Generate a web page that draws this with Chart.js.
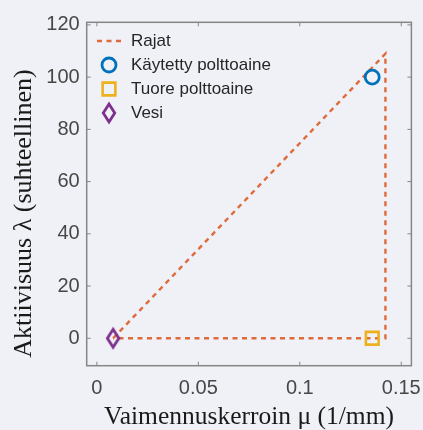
<!DOCTYPE html>
<html><head><meta charset="utf-8">
<script src="https://cdn.jsdelivr.net/npm/chart.js@4"></script>
<style>html,body{margin:0;padding:0;background:#f0f1f6;}#wrap{width:423px;height:430px;}</style>
</head><body><div id="wrap"><canvas id="c" width="423" height="430"></canvas></div>
<script>
// ---- data ----
const seriesNames = ['Rajat', 'Käytetty polttoaine', 'Tuore polttoaine', 'Vesi'];
const boundsX = [0.008, 0.1422, 0.1422, 0.008];
const boundsY = [0, 109, 0, 0];
const usedX = [0.1357];
const usedY = [100];
const freshX = [0.1357];
const freshY = [0];
const waterX = [0.008];
const waterY = [0];
const xTicks = [0, 0.05, 0.1, 0.15];
const yTicks = [0, 20, 40, 60, 80, 100, 120];
const xTitle = 'Vaimennuskerroin μ (1/mm)';
const yTitle = 'Aktiivisuus λ (suhteellinen)      ';

const pts = (xs, ys) => xs.map((v, i) => ({x: v, y: ys[i]}));

function diamondCanvas(color, w, h, lw) {
  const c = document.createElement('canvas');
  c.width = Math.ceil(w + lw * 2); c.height = Math.ceil(h + lw * 2);
  const g = c.getContext('2d');
  const cx = c.width / 2, cy = c.height / 2;
  g.strokeStyle = color; g.lineWidth = lw; g.lineJoin = 'miter';
  g.beginPath();
  g.moveTo(cx, cy - h / 2); g.lineTo(cx + w / 2, cy);
  g.lineTo(cx, cy + h / 2); g.lineTo(cx - w / 2, cy);
  g.closePath(); g.stroke();
  return c;
}
const diamond = diamondCanvas('#7E2F8E', 11.5, 18, 2.8);

const frame = {
  id: 'frame',
  beforeDatasetsDraw(chart) {
    const {ctx, chartArea: a, scales: {x, y}} = chart;
    ctx.save();
    ctx.strokeStyle = '#868686'; ctx.lineWidth = 1.5;
    ctx.strokeRect(a.left, a.top, a.right - a.left, a.bottom - a.top);
    const L = 4;
    ctx.beginPath();
    x.ticks.forEach(t => { const p = x.getPixelForValue(t.value);
      ctx.moveTo(p, a.bottom); ctx.lineTo(p, a.bottom - L);
      ctx.moveTo(p, a.top); ctx.lineTo(p, a.top + L); });
    y.ticks.forEach(t => { const p = y.getPixelForValue(t.value);
      ctx.moveTo(a.left, p); ctx.lineTo(a.left + L, p);
      ctx.moveTo(a.right, p); ctx.lineTo(a.right - L, p); });
    ctx.lineWidth = 1; ctx.stroke();
    ctx.restore();
  }
};

const legendIn = {
  id: 'legendIn',
  afterDatasetsDraw(chart) {
    const {ctx} = chart;
    const ds = chart.data.datasets;
    const symX = 109, textX = 131, rows = [41, 65, 89, 113];
    ctx.save();
    ds.forEach((d, i) => {
      const yy = rows[i];
      ctx.save();
      ctx.strokeStyle = d.borderColor; ctx.lineWidth = d.borderWidth;
      ctx.fillStyle = 'rgba(0,0,0,0)';
      if (d.showLine) {
        ctx.setLineDash(d.borderDash || []);
        ctx.beginPath(); ctx.moveTo(97, yy); ctx.lineTo(125, yy); ctx.stroke();
      } else {
        Chart.helpers.drawPoint(ctx, {pointStyle: d.pointStyle, radius: d.pointRadius,
          borderWidth: d.borderWidth, rotation: 0}, symX, yy);
      }
      ctx.restore();
      ctx.fillStyle = '#262626';
      ctx.font = '17px "Liberation Sans", Arial, sans-serif';
      ctx.textBaseline = 'middle'; ctx.textAlign = 'left';
      ctx.fillText(d.label, textX, yy);
    });
    ctx.restore();
  }
};

const noPad = s => { s.paddingLeft = 0; s.paddingRight = 0; s.paddingTop = 0; s.paddingBottom = 0; };

new Chart(document.getElementById('c'), {
  type: 'scatter',
  data: {
    datasets: [
      {label: seriesNames[0], data: pts(boundsX, boundsY), showLine: true,
       borderColor: '#df6a3a', borderWidth: 2.4, borderDash: [5, 4.5], pointRadius: 0,
       backgroundColor: 'transparent', order: 10},
      {label: seriesNames[1], data: pts(usedX, usedY), pointStyle: 'circle', pointRadius: 7,
       borderColor: '#0072BD', borderWidth: 2.8, backgroundColor: 'transparent', order: 1},
      {label: seriesNames[2], data: pts(freshX, freshY), pointStyle: 'rect', pointRadius: 9,
       borderColor: '#EDB120', borderWidth: 2.6, backgroundColor: 'transparent', order: 1},
      {label: seriesNames[3], data: pts(waterX, waterY), pointStyle: diamond, pointRadius: 8,
       borderColor: '#7E2F8E', borderWidth: 2.8, backgroundColor: 'transparent', order: 1}
    ]
  },
  options: {
    responsive: false, animation: false, devicePixelRatio: 1,
    layout: {padding: {left: 0, right: 9, top: 22.3, bottom: 0}},
    plugins: {legend: {display: false}, tooltip: {enabled: false}},
    elements: {point: {hoverRadius: 0}},
    scales: {
      x: {
        type: 'linear', min: -0.005, max: 0.155,
        afterBuildTicks: s => { s.ticks = xTicks.map(v => ({value: v})); },
        afterFit: s => { s.height = 430 - 365.7; noPad(s); },
        grid: {display: false, drawTicks: false}, border: {display: false},
        ticks: {padding: 10.6, color: '#474747', font: {family: '"Liberation Sans", Arial, sans-serif', size: 20},
          callback: v => String(v), maxRotation: 0, autoSkip: false},
        title: {display: true, text: xTitle, color: '#1a1a1a', padding: 0,
          font: {family: '"Liberation Serif", "Times New Roman", serif', size: 25.5, lineHeight: 1}}
      },
      y: {
        type: 'linear', min: -10.5, max: 121,
        afterBuildTicks: s => { s.ticks = yTicks.map(v => ({value: v})); },
        afterFit: s => { s.width = 86.7; noPad(s); },
        grid: {display: false, drawTicks: false}, border: {display: false},
        ticks: {padding: 7, color: '#474747', font: {family: '"Liberation Sans", Arial, sans-serif', size: 20},
          callback: v => String(v), autoSkip: false},
        title: {display: true, text: yTitle, color: '#1a1a1a', padding: {top: 8.6, bottom: 0},
          font: {family: '"Liberation Serif", "Times New Roman", serif', size: 26, lineHeight: 1.2}}
      }
    }
  },
  plugins: [frame, legendIn]
});
</script></body></html>
